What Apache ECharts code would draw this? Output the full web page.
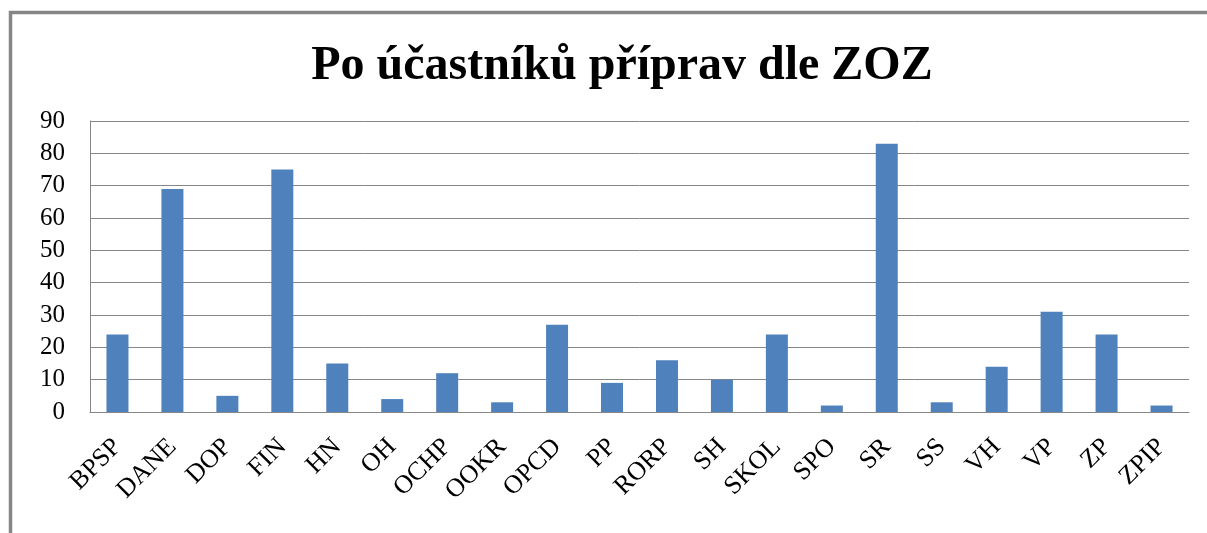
<!DOCTYPE html>
<html>
<head>
<meta charset="utf-8">
<script src="https://cdn.jsdelivr.net/npm/echarts@6/dist/echarts.min.js"></script>
<style>
html,body{margin:0;padding:0;background:#fff;}
#chart{width:1207px;height:533px;}
</style>
</head>
<body>
<div id="chart"></div>
<script>
const titleText = 'Po účastníků příprav dle ZOZ';
const categories = ['BPSP','DANE','DOP','FIN','HN','OH','OCHP','OOKR','OPCD','PP','RORP','SH','SKOL','SPO','SR','SS','VH','VP','ZP','ZPIP'];
const values = [24, 69, 5, 75, 15, 4, 12, 3, 27, 9, 16, 10, 24, 2, 83, 3, 14, 31, 24, 2];
const yMin = 0, yMax = 90, yStep = 10;

const chart = echarts.init(document.getElementById('chart'));
const font = '"Liberation Serif", "Times New Roman", serif';
chart.setOption({
  animation: false,
  backgroundColor: '#ffffff',
  title: {
    text: titleText,
    left: 617,
    textAlign: 'center',
    top: 38,
    textStyle: { fontFamily: font, fontWeight: 'bold', fontSize: 48, color: '#000' }
  },
  graphic: [{
    type: 'rect',
    shape: { x: 10.5, y: 12.5, width: 1400, height: 700 },
    style: { fill: 'none', stroke: '#868686', lineWidth: 3.5 },
    silent: true
  }],
  grid: { left: 90, right: 18, top: 121, bottom: 121, containLabel: false },
  xAxis: {
    type: 'category',
    data: categories,
    axisLine: { show: true, lineStyle: { color: '#868686', width: 1 } },
    axisTick: { show: false },
    axisLabel: {
      rotate: 45, interval: 0, margin: 31,
      fontFamily: font, fontSize: 26, color: '#000'
    }
  },
  yAxis: {
    type: 'value',
    min: yMin, max: yMax, interval: yStep,
    axisLine: { show: true, lineStyle: { color: '#868686', width: 1 } },
    axisTick: { show: false },
    splitLine: { show: true, lineStyle: { color: '#868686', width: 1 } },
    axisLabel: { margin: 25, fontFamily: font, fontSize: 25, color: '#000' }
  },
  series: [{
    type: 'bar',
    data: values,
    barWidth: 22,
    itemStyle: { color: '#4F81BD' }
  }]
});
</script>
</body>
</html>
